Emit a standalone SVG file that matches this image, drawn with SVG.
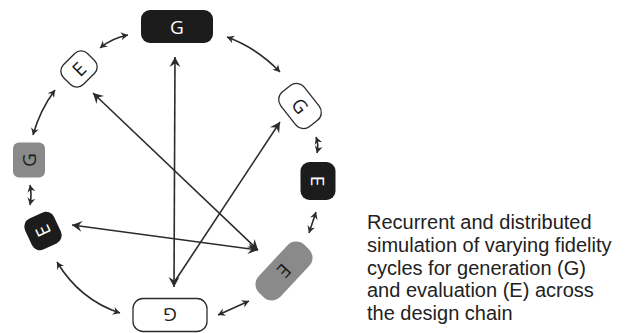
<svg xmlns="http://www.w3.org/2000/svg" width="634" height="333" viewBox="0 0 634 333">
<defs>
<style>
.c{fill:none;stroke:#2b2b2b;stroke-width:1.6}
.blk{fill:#1c1c1c}
.gry{fill:#8a8a8a}
.wht{fill:#fff;stroke:#2b2b2b;stroke-width:1.3}
.lw{font-family:"Open Sans","Liberation Sans",sans-serif;font-size:19px;fill:#fff;text-anchor:middle;dominant-baseline:central}
.lb{font-family:"Open Sans","Liberation Sans",sans-serif;font-size:19px;fill:#1c1c1c;text-anchor:middle;dominant-baseline:central}
.cap{font-family:"Liberation Sans",Arial,sans-serif;font-size:20px;fill:#222}
</style>
<marker id="ah" viewBox="-11 -6 12 12" refX="0" refY="0" markerWidth="12" markerHeight="12" markerUnits="userSpaceOnUse" orient="auto-start-reverse">
<path d="M0,0 L-10,-5.5 L-6.5,0 L-10,5.5 Z" fill="#2b2b2b"/>
</marker>
<marker id="as" viewBox="-8 -5 9 10" refX="0" refY="0" markerWidth="9" markerHeight="10" markerUnits="userSpaceOnUse" orient="auto-start-reverse">
<path d="M0,0 L-7,-4 L-4.8,0 L-7,4 Z" fill="#2b2b2b"/>
</marker>
</defs>
<rect width="634" height="333" fill="#fff"/>

<g id="connectors">
<path class="c" d="M100,48 Q112,38 128,35" marker-start="url(#as)" marker-end="url(#as)"/>
<path class="c" d="M227,37 Q257,48 280,72" marker-start="url(#as)" marker-end="url(#as)"/>
<path class="c" d="M55,90 Q40,110 33,135" marker-start="url(#as)" marker-end="url(#as)"/>
<path class="c" d="M30,185 Q32,195 30,205" marker-start="url(#as)" marker-end="url(#as)"/>
<path class="c" d="M57,262 Q80,300 120,313" marker-start="url(#as)" marker-end="url(#as)"/>
<path class="c" d="M218,315 L249,301" marker-start="url(#as)" marker-end="url(#as)"/>
<path class="c" d="M309,233 L316,212" marker-start="url(#as)" marker-end="url(#as)"/>
<path class="c" d="M316,137 Q319,145 317,153" marker-start="url(#as)" marker-end="url(#as)"/>
<path class="c" d="M175,57 L174,287" marker-start="url(#ah)" marker-end="url(#ah)"/>
<path class="c" d="M93,93 L258,250" marker-start="url(#ah)" marker-end="url(#ah)"/>
<path class="c" d="M72,225 L258,250" marker-start="url(#ah)" marker-end="url(#ah)"/>
<path class="c" d="M175,281 L280,122" marker-end="url(#ah)"/>
</g>

<g id="g-top">
<rect class="blk" x="141" y="10" width="72" height="33" rx="9"/>
<text class="lw" x="177" y="27">G</text>
</g>
<g id="e-upper-left" transform="translate(79,69) rotate(-45)">
<rect class="wht" x="-17" y="-14" width="34" height="28" rx="9"/>
<text class="lb" x="0" y="0">E</text>
</g>
<g id="g-left" transform="translate(29,160) rotate(-90)">
<rect class="gry" x="-17.5" y="-16" width="35" height="32" rx="6"/>
<text class="lb" x="0" y="0">G</text>
</g>
<g id="e-left" transform="translate(43,231) rotate(-115)">
<rect class="blk" x="-17" y="-16" width="34" height="32" rx="9"/>
<text class="lw" x="0" y="0">E</text>
</g>
<g id="g-bottom" transform="translate(170,315) rotate(180)">
<rect class="wht" x="-37" y="-16.5" width="74" height="33" rx="10"/>
<text class="lb" x="0" y="0">G</text>
</g>
<g id="e-lower-right" transform="translate(284,271) rotate(-47)">
<rect class="gry" x="-33" y="-15" width="66" height="30" rx="12"/>
<text class="lb" x="0" y="0" transform="rotate(180)">E</text>
</g>
<g id="e-right" transform="translate(318,181) rotate(90)">
<rect class="blk" x="-19" y="-17.5" width="38" height="35" rx="9"/>
<text class="lw" x="0" y="0">E</text>
</g>
<g id="g-upper-right" transform="translate(300,106) rotate(52)">
<rect class="wht" x="-22" y="-15" width="44" height="30" rx="10"/>
<text class="lb" x="0" y="0">G</text>
</g>

<g id="caption">
<text class="cap" x="367" y="229">Recurrent and distributed</text>
<text class="cap" x="367" y="252">simulation of varying fidelity</text>
<text class="cap" x="367" y="275">cycles for generation (G)</text>
<text class="cap" x="367" y="297">and evaluation (E) across</text>
<text class="cap" x="367" y="320">the design chain</text>
</g>
</svg>
